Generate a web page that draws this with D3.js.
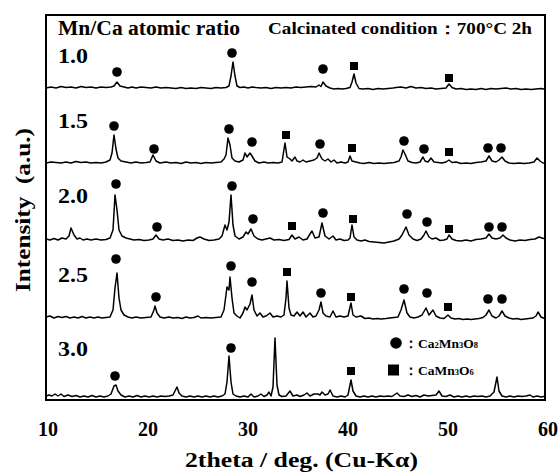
<!DOCTYPE html>
<html><head><meta charset="utf-8">
<script src="https://cdn.jsdelivr.net/npm/d3@7"></script>
<style>
html,body{margin:0;padding:0;background:#fff;}
svg text{font-family:"Liberation Serif","Times New Roman",serif;font-weight:bold;fill:#000;}
</style></head>
<body><svg id="c" width="559" height="473"></svg>
<script>
// ---- data ----
const ratios = ["1.0","1.5","2.0","2.5","3.0"];
const offsets = [311, 237, 160, 82, 3];          // vertical offset of each pattern (a.u.)
const xTicks = [10,20,30,40,50,60];
const legendLabels = [["circle","Ca","2","Mn","3","O","8"],["square","CaMn","3","O","6",null,null]];

const pattern10 = [[10,1],[10.5,2],[11,1],[11.5,2.5],[12,1.5],[12.5,2],[13,1],[13.5,2.5],[14,1.5],[14.5,2],[15,1],[15.5,2],[16,1.5],[16.5,2],[16.8,3],[17.1,7],[17.4,3],[17.8,2],[18.2,1],[18.6,2],[19,1],[19.5,2],[20,1.5],[20.5,1],[21,2],[21.5,1],[22,1.5],[22.5,1],[23,0.5],[23.5,1.5],[24,0.5],[24.5,1],[25,0.5],[25.5,1.5],[26,1],[26.5,0.5],[27,1.5],[27.5,1],[28,1.5],[28.3,3],[28.5,13],[28.7,27],[28.9,13],[29.1,3],[29.4,1.5],[29.8,2],[30.2,1],[30.6,2],[31,1.5],[31.5,1],[32,1.5],[32.5,0.5],[33,1.5],[33.5,1],[34,1.5],[34.5,1],[35,2],[35.5,1.5],[36,2],[36.5,2.5],[37,2],[37.3,4],[37.5,2.5],[37.7,7],[38,3],[38.4,1],[38.8,0],[39.2,0.5],[39.6,0],[40,0.5],[40.4,1.5],[40.6,7],[40.8,15],[41,6],[41.3,0.5],[41.7,0],[42.2,0.5],[42.7,-0.5],[43.2,0.5],[43.7,0],[44.2,0.5],[44.7,1],[45,1.5],[45.5,2],[46,1],[46.5,2.5],[47,1],[47.5,1.5],[48,0.5],[48.5,1],[49,0],[49.5,0.5],[50,1],[50.3,5],[50.6,1.5],[51,0],[51.5,0.5],[52,-0.5],[52.5,0],[53,-0.5],[53.5,0.5],[54,-0.5],[54.5,0.5],[55,0],[55.5,0.5],[56,1],[56.5,0],[57,0.5],[57.5,-0.5],[58,0],[58.5,-0.5],[59,0],[59.5,0.5],[60,-0.5]];

const pattern15 = [[10,0],[10.5,1],[11,0.5],[11.5,0],[12,1],[12.5,0],[13,1.5],[13.5,0.5],[14,1],[14.5,0],[15,0.5],[15.5,0],[16,1],[16.4,3],[16.6,10],[16.8,28],[17,14],[17.2,5],[17.5,2],[18,1],[18.5,0],[19,1],[19.5,0],[20,0.5],[20.4,1],[20.7,8],[21,2],[21.4,0],[22,1],[22.5,0],[23,0.5],[23.5,-0.5],[24,1],[24.5,0],[25,0.5],[25.5,-0.5],[26,0.5],[26.5,0],[27,0.5],[27.5,1],[27.8,4],[28,8],[28.2,25],[28.4,18],[28.6,5],[28.9,2],[29.3,1],[29.7,3],[29.9,10],[30.1,6],[30.4,10],[30.6,7],[30.9,2],[31.3,0],[31.8,1],[32.2,0],[32.7,0.5],[33.2,0],[33.6,1],[33.9,20],[34.1,6],[34.4,4],[34.6,2],[34.9,6],[35.1,2],[35.4,1],[35.7,3],[36,1],[36.4,2],[36.8,3],[37.1,5],[37.3,10],[37.6,4],[37.9,2],[38.2,4],[38.5,1],[38.8,3],[39.1,0],[39.5,1],[39.9,0],[40.2,1],[40.4,7],[40.6,2],[41,1],[41.4,0],[41.8,-0.5],[42.3,0.5],[42.8,-0.5],[43.3,0],[43.8,-0.5],[44.3,0],[44.8,0.5],[45.3,2],[45.5,6],[45.7,13],[45.9,9],[46.2,2],[46.6,0.5],[47,0],[47.4,1],[47.7,6],[47.9,2],[48.2,1],[48.5,5],[48.8,1],[49.2,0.5],[49.6,0],[50,1],[50.3,3],[50.6,0.5],[51,1],[51.5,-0.5],[52,0],[52.5,-0.5],[53,0.5],[53.5,1],[54,2],[54.3,7],[54.6,2],[55,1],[55.3,3],[55.6,6],[55.9,2],[56.3,0],[56.8,-0.5],[57.3,0],[57.8,-0.5],[58.3,0],[58.8,1],[59.1,5],[59.4,2],[59.7,0],[60,0]];

const pattern20 = [[10,1],[10.4,0],[10.8,1.5],[11.2,0],[11.6,2],[12,1],[12.3,4],[12.5,12],[12.8,5],[13.1,1],[13.4,2],[13.7,0],[14.1,1],[14.5,0],[15,1],[15.5,0],[16,0.5],[16.4,2],[16.7,10],[16.9,45],[17.1,30],[17.3,10],[17.6,4],[18,2],[18.4,1],[18.8,0],[19.3,0.5],[19.8,-0.5],[20.3,0],[20.7,1],[21,5],[21.3,1],[21.7,0],[22.2,1],[22.7,-0.5],[23.2,0],[23.7,-1],[24.2,0],[24.7,-0.5],[25.1,2],[25.4,3],[25.8,1],[26.3,-0.5],[26.8,0],[27.3,1],[27.6,4],[27.9,15],[28.1,10],[28.3,18],[28.5,45],[28.7,15],[28.9,4],[29.3,1],[29.7,3],[30,8],[30.2,6],[30.5,11],[30.8,4],[31.2,1],[31.6,0],[32,1],[32.4,2],[32.8,0],[33.3,0.5],[33.8,-0.5],[34.3,0.5],[34.6,5],[34.9,1],[35.3,3],[35.7,0],[36.1,1],[36.4,6],[36.6,9],[36.9,2],[37.3,3],[37.6,17],[37.9,4],[38.3,1],[38.7,4],[39,0],[39.4,1],[39.8,-0.5],[40.2,0],[40.4,2],[40.6,15],[40.8,3],[41.1,0],[41.5,-1],[41.9,0],[42.3,-1.5],[42.8,-2],[43.3,-2.5],[43.8,-3],[44.3,-2],[44.8,-1],[45.3,1],[45.6,5],[46,13],[46.3,5],[46.7,1],[47.1,-0.5],[47.5,1],[47.8,5],[48,9],[48.3,3],[48.6,1],[49,2],[49.4,-0.5],[49.8,0],[50.1,1],[50.3,5],[50.6,1],[51,-0.5],[51.5,-1],[52,0],[52.5,-1],[53,0.5],[53.5,1],[54,2],[54.3,6],[54.6,2],[55,1],[55.4,2],[55.7,5],[56,2],[56.4,0],[56.9,-1],[57.4,0],[57.9,-0.5],[58.4,0.5],[58.9,1],[59.3,3],[59.6,2],[60,1]];

const pattern25 = [[10,1],[10.4,2],[10.8,0],[11.2,1.5],[11.6,0.5],[12,1.5],[12.4,0],[12.8,1],[13.2,0],[13.6,1.5],[14,0],[14.4,1],[14.8,0],[15.2,1],[15.6,0],[16,0.5],[16.4,1],[16.7,8],[16.9,30],[17.1,45],[17.3,20],[17.5,8],[17.8,3],[18.2,1],[18.6,0],[19,1],[19.5,0],[20,0.5],[20.5,1],[20.8,8],[20.9,12],[21.1,5],[21.4,1],[21.8,0],[22.3,1],[22.7,0],[23.2,0.5],[23.6,-0.5],[24,1],[24.4,0],[24.8,0.5],[25.2,2],[25.5,0],[26,0.5],[26.5,0],[27,0.5],[27.5,1],[27.8,8],[28.1,31],[28.3,28],[28.4,41],[28.6,20],[28.8,5],[29.1,2],[29.4,0],[29.7,5],[29.9,11],[30.1,8],[30.4,14],[30.6,23],[30.8,8],[31.1,2],[31.4,5],[31.7,1],[32,2],[32.4,5],[32.7,1],[33.1,2],[33.5,1],[33.8,3],[34,20],[34.1,37],[34.3,10],[34.5,3],[34.8,2],[35.1,6],[35.4,2],[35.7,6],[36,1],[36.4,5],[36.7,1],[37,2],[37.3,8],[37.5,16],[37.7,5],[38,2],[38.4,1],[38.7,7],[39,1],[39.4,2],[39.8,1],[40.2,2],[40.5,15],[40.7,3],[41,1],[41.5,2],[41.9,-0.5],[42.3,0],[42.7,-1],[43.1,-0.5],[43.5,-1],[44,-0.5],[44.4,0],[44.8,0.5],[45.2,1],[45.5,8],[45.8,18],[46.1,5],[46.4,1],[46.8,0],[47.2,1],[47.6,3],[48,10],[48.3,3],[48.7,8],[49,2],[49.4,0],[49.8,-0.5],[50.2,3],[50.5,0],[50.9,-1],[51.3,-0.5],[51.7,-1.5],[52.1,-1],[52.5,-1.5],[52.9,-1],[53.3,-0.5],[53.7,0.5],[54,3],[54.3,8],[54.6,2],[55,0],[55.3,2],[55.6,7],[55.9,2],[56.3,0],[56.7,-1],[57.1,-0.5],[57.5,-1.5],[57.9,-1],[58.3,-0.5],[58.7,0],[59,2],[59.2,6],[59.5,1],[60,-1]];

const pattern30 = [[10,1],[10.3,2],[10.6,1],[10.9,3],[11.2,1],[11.5,3],[11.8,0.5],[12.2,2],[12.6,0.5],[13,1.5],[13.4,0],[13.8,1],[14.2,0],[14.6,1.5],[15,0],[15.4,1],[15.8,0],[16.2,1],[16.5,3],[16.8,11],[17,12],[17.2,6],[17.5,2],[17.9,0],[18.3,1],[18.7,0],[19.1,1.5],[19.5,0],[19.9,1],[20.3,0],[20.7,1],[21.1,0],[21.5,1],[21.9,0.5],[22.3,1],[22.7,2],[22.9,6],[23.1,10],[23.3,4],[23.6,1],[24,0],[24.4,1],[24.8,0],[25.2,1],[25.6,0],[26,1],[26.4,0],[26.8,1],[27.2,0],[27.6,1],[27.9,3],[28.1,15],[28.3,41],[28.5,15],[28.7,3],[29,1],[29.4,0],[29.8,1],[30.2,0],[30.5,3],[30.8,0],[31.2,1],[31.5,3],[31.8,0.5],[32.1,2],[32.3,5],[32.5,1],[32.7,10],[32.9,59],[33.1,12],[33.3,2],[33.6,0.5],[34,1],[34.4,6],[34.7,1],[35.1,2],[35.4,0.5],[35.8,2],[36.1,4],[36.4,1],[36.8,3],[37.2,3],[37.4,2],[37.6,5],[37.9,2],[38.2,3],[38.4,7],[38.7,1],[39.1,0],[39.5,1],[39.9,0],[40.2,2],[40.4,12],[40.5,17],[40.7,6],[41,1],[41.4,0],[41.8,1],[42.2,0],[42.6,1],[43,0],[43.4,1],[43.8,0.5],[44.2,1],[44.6,0.5],[45.1,4],[45.4,1],[45.8,0.5],[46.2,2],[46.6,0.5],[47,1.5],[47.4,0],[47.8,2],[48.2,1],[48.6,1.5],[49,2],[49.3,6],[49.6,1],[50,0.5],[50.4,2],[50.8,0],[51.2,1],[51.6,0],[52,1],[52.4,0],[52.8,1],[53.2,0.5],[53.6,1],[54,0],[54.4,1],[54.8,5],[55.1,20],[55.3,6],[55.6,1],[56,0],[56.4,1],[56.8,0],[57.2,1],[57.6,0.5],[58,1],[58.4,2],[58.7,0],[59.1,1],[59.5,0],[60,1]];

const patterns = [pattern10, pattern15, pattern20, pattern25, pattern30];

// phase markers: [2theta, phase, height above pattern baseline]
const markers10 = [[17.1,"circle",17],[28.6,"circle",36],[37.7,"circle",20],[40.8,"square",23],[50.3,"square",11]];
const markers15 = [[16.8,"circle",37],[20.8,"circle",14],[28.3,"circle",34],[30.6,"circle",21],[34.0,"square",28],[37.4,"circle",19],[40.6,"square",15],[45.8,"circle",22],[47.8,"circle",14],[50.3,"square",11],[54.2,"circle",15],[55.5,"circle",15]];
const markers20 = [[17.0,"circle",56],[21.1,"circle",13],[28.6,"circle",54],[30.7,"circle",21],[34.6,"square",14],[37.7,"circle",27],[40.7,"square",21],[46.1,"circle",26],[48.1,"circle",18],[50.3,"square",11],[54.3,"circle",13],[55.6,"circle",13]];
const markers25 = [[17.0,"circle",59],[21.0,"circle",21],[28.5,"circle",52],[30.6,"circle",36],[34.1,"square",46],[37.5,"circle",25],[40.5,"square",21],[45.8,"circle",29],[48.1,"circle",25],[50.2,"square",11],[54.2,"circle",19],[55.6,"circle",19]];
const markers30 = [[16.9,"circle",21],[28.5,"circle",49],[40.5,"square",26]];
const markerSets = [markers10, markers15, markers20, markers25, markers30];

// ---- drawing ----
const svg = d3.select("#c");
const L = 46, R = 545, T = 15, B = 400;
const x = d3.scaleLinear().domain([10,60]).range([L,L+500]);
const y = d3.scaleLinear().domain([0,385]).range([B,T]);

svg.append("clipPath").attr("id","clp").append("rect")
  .attr("x",L).attr("y",T).attr("width",R-L).attr("height",B-T);

const line = d3.line().x(d=>x(d[0])).y(d=>y(d[1]));
const g = svg.append("g").attr("clip-path","url(#clp)");
patterns.forEach((p,i)=>{
  g.append("path")
    .datum(p.map(d=>[d[0], d[1]+offsets[i]]))
    .attr("d",line).attr("fill","none").attr("stroke","#000")
    .attr("stroke-width",1.5).attr("stroke-linejoin","round");
});

markerSets.forEach((ms,i)=>{
  ms.forEach(m=>{
    const cx = x(m[0]), cy = y(m[2]+offsets[i]);
    if (m[1]==="circle") svg.append("circle").attr("cx",cx).attr("cy",cy).attr("r",4.8).attr("fill","#000");
    else svg.append("rect").attr("x",cx-4).attr("y",cy-4).attr("width",8).attr("height",8).attr("fill","#000");
  });
});

// frame
svg.append("rect").attr("x",L).attr("y",T).attr("width",R-L).attr("height",B-T)
  .attr("fill","none").attr("stroke","#000").attr("stroke-width",2);

// x axis labels
const ax = svg.append("g").attr("transform",`translate(1.5,${B})`)
  .call(d3.axisBottom(x).tickValues(xTicks).tickSize(0).tickPadding(22));
ax.select(".domain").remove();
ax.selectAll("text").style("font-size","20px").style("font-family","'Liberation Serif',serif").style("font-weight","bold").attr("fill","#000");

svg.append("text").attr("x",185).attr("y",467)
  .attr("textLength",233).attr("lengthAdjust","spacingAndGlyphs")
  .style("font-size","20px").text("2theta / deg. (Cu-K\u03b1)");

svg.append("text").attr("transform","translate(30,292) rotate(-90)")
  .attr("textLength",164).attr("lengthAdjust","spacingAndGlyphs")
  .style("font-size","20px").attr("xml:space","preserve").text("Intensity  (a.u.)");

// titles
svg.append("text").attr("x",58).attr("y",35)
  .attr("textLength",182).attr("lengthAdjust","spacingAndGlyphs")
  .style("font-size","20px").text("Mn/Ca atomic ratio");
svg.append("text").attr("x",268).attr("y",34)
  .attr("textLength",264).attr("lengthAdjust","spacingAndGlyphs")
  .style("font-size","16px").text("Calcinated condition\uFF1A700\u00B0C 2h");

// ratio labels
const labelY = [63,128,203,282,356];
ratios.forEach((r,i)=>{
  svg.append("text").attr("x",58).attr("y",labelY[i])
    .attr("textLength",30).attr("lengthAdjust","spacingAndGlyphs")
    .style("font-size","20px").text(r);
});

// legend
legendLabels.forEach((lg,i)=>{
  const ly = 343 + i*27;
  if (lg[0]==="circle") svg.append("circle").attr("cx",396).attr("cy",ly).attr("r",5.8).attr("fill","#000");
  else svg.append("rect").attr("x",388).attr("y",ly-5.5).attr("width",11).attr("height",11).attr("fill","#000");
  const t = svg.append("text").attr("x",404).attr("y",ly+4.5).style("font-size","13.5px");
  t.append("tspan").text("\uFF1A");
  for (let k=1;k<lg.length;k+=2){
    if (lg[k]===null) break;
    t.append("tspan").text(lg[k]);
    if (lg[k+1]!==null) t.append("tspan").style("font-size","8.5px").text(lg[k+1]);
  }
});
</script></body></html>
